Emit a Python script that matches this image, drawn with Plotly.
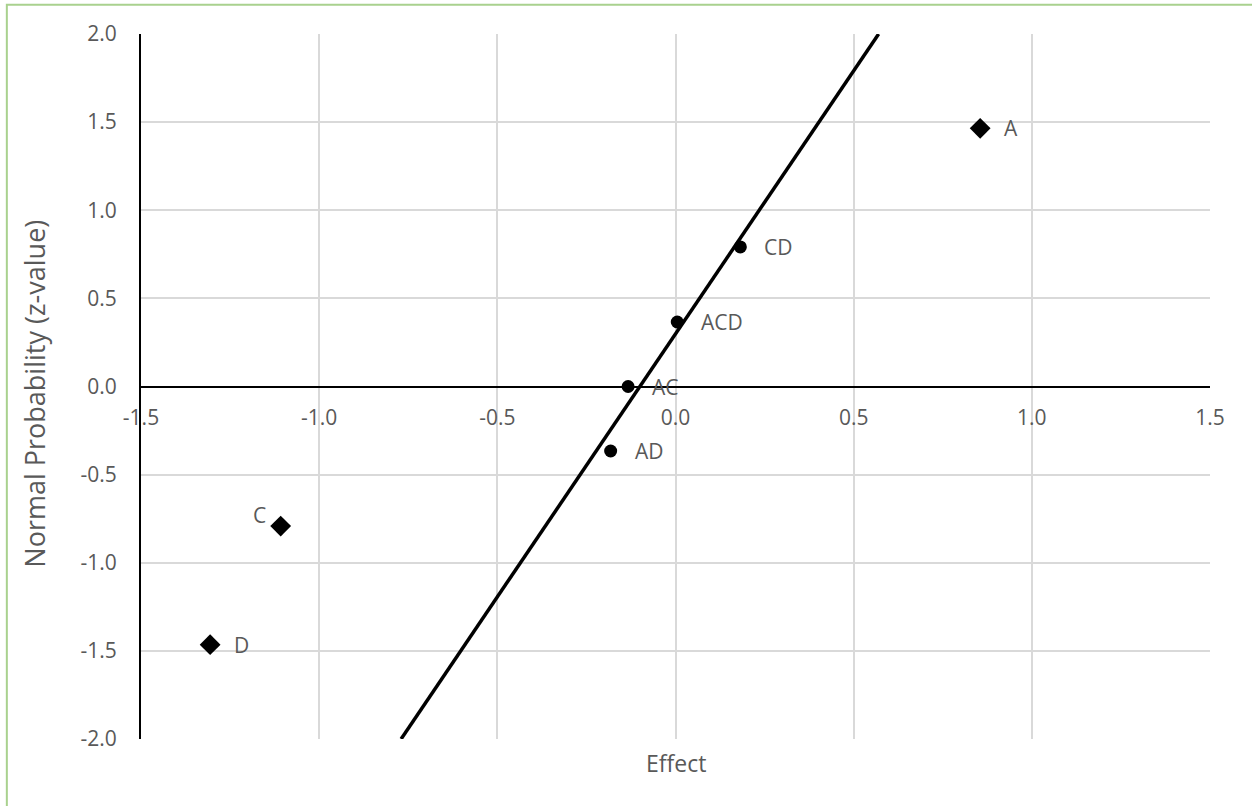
import plotly.graph_objects as go

# Data
sig_labels = ["A", "C", "D"]
sig_effect = [0.855, -1.108, -1.306]
sig_z = [1.465, -0.792, -1.465]

other_labels = ["CD", "ACD", "AC", "AD"]
other_effect = [0.182, 0.005, -0.133, -0.182]
other_z = [0.792, 0.366, 0.0, -0.366]

line_x = [-0.77, 0.57]
line_y = [-2.0, 2.0]

x_ticks = [-1.5, -1.0, -0.5, 0.0, 0.5, 1.0, 1.5]
y_ticks = [-2.0, -1.5, -1.0, -0.5, 0.0, 0.5, 1.0, 1.5, 2.0]

FONT = "Open Sans"
TXT = "#595959"
FS = 21

fig = go.Figure()

fig.add_trace(go.Scatter(x=line_x, y=line_y, mode="lines",
                         line=dict(color="black", width=3.5), showlegend=False,
                         hoverinfo="skip"))
fig.add_trace(go.Scatter(x=other_effect, y=other_z, mode="markers",
                         marker=dict(symbol="circle", size=13, color="black"),
                         showlegend=False))
fig.add_trace(go.Scatter(x=sig_effect, y=sig_z, mode="markers",
                         marker=dict(symbol="diamond", size=16, color="black"),
                         showlegend=False))

# point labels
all_labels = sig_labels + other_labels
all_x = sig_effect + other_effect
all_y = sig_z + other_z
for lab, xv, yv in zip(all_labels, all_x, all_y):
    if lab == "C":
        fig.add_annotation(x=xv, y=yv, text=lab, showarrow=False,
                           xanchor="right", xshift=-13, yshift=11,
                           font=dict(family=FONT, size=FS, color=TXT))
    else:
        fig.add_annotation(x=xv, y=yv, text=lab, showarrow=False,
                           xanchor="left", xshift=22,
                           font=dict(family=FONT, size=FS, color=TXT))

# axis title annotations
fig.add_annotation(xref="paper", yref="paper", x=0.5, y=-0.0335, text="Effect",
                   showarrow=False, yanchor="middle",
                   font=dict(family=FONT, size=23, color=TXT))
fig.add_annotation(xref="paper", yref="paper", x=-0.1, y=0.49,
                   text="Normal Probability (z-value)", textangle=-90,
                   showarrow=False, xanchor="center",
                   font=dict(family=FONT, size=27, color=TXT))

# outer green border (top and left visible)
fig.add_shape(type="rect", xref="paper", yref="paper",
              x0=-0.1255, x1=1.08, y0=-0.15, y1=1.0415,
              line=dict(color="#a9d18e", width=2), layer="below")

fig.update_layout(
    width=1252, height=806,
    margin=dict(l=141, r=42, t=34, b=67),
    paper_bgcolor="white", plot_bgcolor="white",
    font=dict(family=FONT, size=FS, color=TXT),
    xaxis=dict(range=[-1.5, 1.5], tickvals=x_ticks,
               ticktext=[f"{v:.1f}" for v in x_ticks],
               showgrid=True, gridcolor="#d9d9d9", gridwidth=1.5,
               zeroline=False, showline=True, linecolor="black", linewidth=2,
               anchor="free", position=0.5, ticks="", ticklabelstandoff=12,
               tickfont=dict(family=FONT, size=FS, color=TXT)),
    yaxis=dict(range=[-2, 2], tickvals=y_ticks,
               ticktext=[f"{v:.1f}" for v in y_ticks],
               showgrid=True, gridcolor="#d9d9d9", gridwidth=1.5,
               zeroline=False, showline=True, linecolor="black", linewidth=2,
               ticks="", ticklabelstandoff=18,
               tickfont=dict(family=FONT, size=FS, color=TXT)),
)

fig.write_html("out.html", config={"displayModeBar": False},
               post_script="document.body.style.margin='0';document.body.style.overflow='hidden';")
